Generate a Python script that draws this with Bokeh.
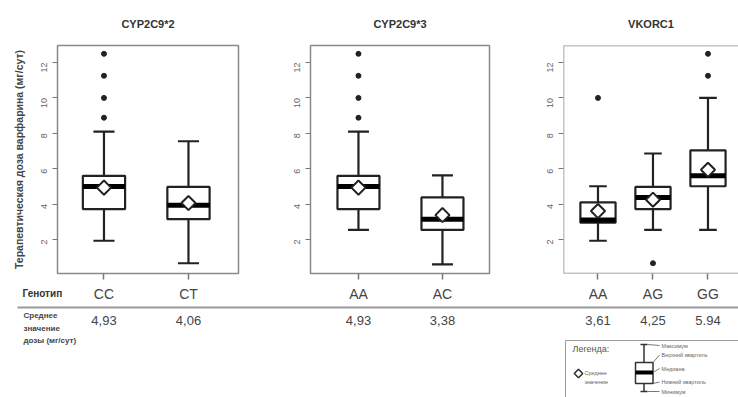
import math
from bokeh.plotting import figure
from bokeh.layouts import column, row
from bokeh.models import FixedTicker, Range1d, Span
from bokeh.embed import file_html
from bokeh.resources import INLINE
from bokeh.core.properties import value

# ---------------- data ----------------
titles = ["CYP2C9*2", "CYP2C9*3", "VKORC1"]
genotypes = [["CC", "CT"], ["AA", "AC"], ["AA", "AG", "GG"]]
whisk_low = [[1.93, 0.66], [2.54, 0.60], [1.93, 2.54, 2.54]]
q1 = [[3.72, 3.15], [3.72, 2.54], [2.95, 3.72, 5.01]]
median = [[5.00, 3.94], [5.00, 3.14], [3.10, 4.38, 5.60]]
q3 = [[5.60, 4.97], [5.60, 4.38], [4.10, 4.97, 7.04]]
whisk_high = [[8.10, 7.55], [8.10, 5.62], [5.01, 6.86, 10.00]]
means = [[4.93, 4.06], [4.93, 3.38], [3.61, 4.25, 5.94]]
mean_labels = [["4,93", "4,06"], ["4,93", "3,38"], ["3,61", "4,25", "5.94"]]
# outliers: (genotype index, value)
outliers = [
    [(0, 12.49), (0, 11.25), (0, 10.00), (0, 8.88)],
    [(0, 12.49), (0, 11.25), (0, 10.00), (0, 8.88)],
    [(0, 10.00), (1, 0.66), (2, 12.49), (2, 11.25)],
]
y_ticks = [2, 4, 6, 8, 10, 12]
y_label = "Терапевтическая доза варфарина (мг/сут)"
genotype_label = "Генотип"
mean_row_label = ["Среднее", "значение", "дозы (мг/сут)"]
legend_title = "Легенда:"
legend_mean = ["Среднее", "значение"]
legend_parts = ["Максимум", "Верхний квартиль", "Медиана", "Нижний квартиль", "Минимум"]

# ---------------- layout geometry ----------------
TOP_H = 280
FONT = "Liberation Sans"
x_ranges = [(0.45, 2.592), (0.429, 2.56), (0.373, 3.555)]
y_range = (0.08, 12.96)
box_w = [0.5, 0.5, 0.64]
fig_w = [250, 250, 238]
border_l = [57, 60, 63]
border_r = [12, 11, 0]
BOX_COL = "#222222"
FRAME_COL = "#8a8a8a"

figs = []
for k in range(3):
    p = figure(width=fig_w[k], height=TOP_H, output_backend="svg", toolbar_location=None,
               x_range=Range1d(*x_ranges[k]), y_range=Range1d(*y_range),
               min_border_left=border_l[k], min_border_right=border_r[k],
               min_border_top=45, min_border_bottom=7, title=titles[k])
    p.title.align = "center"
    p.title.text_font = FONT
    p.title.text_font_size = "11px"
    p.title.text_font_style = "bold"
    p.title.text_color = "#333333"
    p.title.standoff = 31
    p.xgrid.visible = False
    p.ygrid.visible = False
    p.background_fill_color = "white"
    p.border_fill_color = "white"
    if k < 2:
        p.outline_line_color = FRAME_COL
        p.outline_line_width = 1.5
    else:
        p.outline_line_color = None
        for sp in [Span(location=y_range[0], dimension="width"),
                   Span(location=y_range[1], dimension="width"),
                   Span(location=x_ranges[k][0], dimension="height")]:
            sp.line_color = FRAME_COL
            sp.line_width = 1.5
            p.add_layout(sp)

    xs = list(range(1, len(genotypes[k]) + 1))
    # x axis: ticks only (labels drawn in the table below)
    xa = p.xaxis[0]
    xa.ticker = FixedTicker(ticks=xs)
    xa.major_label_overrides = {x: "" for x in xs}
    xa.major_label_text_font_size = "0px"
    xa.major_label_standoff = 0
    xa.axis_line_color = None
    xa.major_tick_out = 6
    xa.major_tick_in = 0
    xa.major_tick_line_color = "#777777"
    xa.major_tick_line_width = 1.5
    xa.minor_tick_line_color = None
    # y axis
    ya = p.yaxis[0]
    ya.ticker = FixedTicker(ticks=y_ticks)
    ya.axis_line_color = None
    ya.major_tick_out = 5
    ya.major_tick_in = 0
    ya.major_tick_line_color = "#777777"
    ya.major_tick_line_width = 1.2
    ya.minor_tick_line_color = None
    ya.major_label_orientation = math.pi / 2
    ya.major_label_text_font = FONT
    ya.major_label_text_font_size = "9px"
    ya.major_label_text_color = "#666666"
    ya.major_label_standoff = 8
    if k == 0:
        ya.axis_label = y_label
        ya.axis_label_text_font = FONT
        ya.axis_label_text_font_size = "10.5px"
        ya.axis_label_text_font_style = "bold"
        ya.axis_label_text_color = "#444444"
        ya.axis_label_standoff = 11

    bw = box_w[k]
    cap = bw / 2
    # whiskers
    p.segment(x0=xs, y0=q3[k], x1=xs, y1=whisk_high[k], line_color=BOX_COL, line_width=2.2)
    p.segment(x0=xs, y0=q1[k], x1=xs, y1=whisk_low[k], line_color=BOX_COL, line_width=2.2)
    p.segment(x0=[x - cap / 2 for x in xs], y0=whisk_high[k], x1=[x + cap / 2 for x in xs],
              y1=whisk_high[k], line_color=BOX_COL, line_width=2.2)
    p.segment(x0=[x - cap / 2 for x in xs], y0=whisk_low[k], x1=[x + cap / 2 for x in xs],
              y1=whisk_low[k], line_color=BOX_COL, line_width=2.2)
    # boxes
    p.vbar(x=xs, width=bw, top=q3[k], bottom=q1[k], fill_color="white",
           line_color=BOX_COL, line_width=2.2)
    # medians
    p.segment(x0=[x - bw / 2 for x in xs], y0=median[k], x1=[x + bw / 2 for x in xs],
              y1=median[k], line_color="#000000", line_width=5)
    # outliers
    p.scatter(x=[xs[i] for i, v in outliers[k]], y=[v for i, v in outliers[k]],
              marker="circle", size=5, fill_color="#222222", line_color="#222222")
    # means (open diamonds)
    p.scatter(x=xs, y=means[k], marker="square", angle=math.pi / 4, size=10,
              fill_color="white", line_color=BOX_COL, line_width=2)
    figs.append(p)

# ---------------- bottom table + legend ----------------
BOT_H = 397 - TOP_H
fb = figure(width=738, height=BOT_H, output_backend="svg", toolbar_location=None,
            x_range=Range1d(0, 738), y_range=Range1d(397, TOP_H),
            min_border_left=0, min_border_right=0, min_border_top=0, min_border_bottom=0)
fb.axis.visible = False
fb.grid.visible = False
fb.outline_line_color = None

# extra ranges aligning with each panel's data scale
offsets = [0, 250, 500]
for k in range(3):
    a, b = x_ranges[k]
    fw = fig_w[k] - border_l[k] - border_r[k]
    unit = fw / (b - a)
    left_px = offsets[k] + border_l[k]
    start = a - left_px / unit
    end = start + 738 / unit
    fb.extra_x_ranges[f"p{k}"] = Range1d(start, end)
    xs = list(range(1, len(genotypes[k]) + 1))
    fb.text(x=xs, y=[293] * len(xs), text=genotypes[k], x_range_name=f"p{k}",
            text_align="center", text_baseline="middle", text_font=value(FONT),
            text_font_size="14px", text_color="#444444")
    fb.text(x=xs, y=[320] * len(xs), text=mean_labels[k], x_range_name=f"p{k}",
            text_align="center", text_baseline="middle", text_font=value(FONT),
            text_font_size="13px", text_color="#444444")

fb.text(x=[22], y=[293], text=[genotype_label], text_align="left", text_baseline="middle",
        text_font=value(FONT), text_font_size="10px", text_font_style="bold",
        text_color="#333333")
fb.segment(x0=[17], y0=[307], x1=[738], y1=[307], line_color="#9a9a9a", line_width=2)
for i, t in enumerate(mean_row_label):
    fb.text(x=[23], y=[315 + i * 12.5], text=[t], text_align="left", text_baseline="middle",
            text_font=value(FONT), text_font_size="8px", text_font_style="bold",
            text_color="#444444")

# legend
fb.quad(left=[565], right=[745], top=[340], bottom=[402], fill_color=None,
        line_color="#9a9a9a", line_width=1)
fb.text(x=[572], y=[348], text=[legend_title], text_align="left", text_baseline="middle",
        text_font=value(FONT), text_font_size="9px", text_color="#555555")
fb.scatter(x=[578], y=[373], marker="square", angle=math.pi / 4, size=6, fill_color="white",
           line_color="#333333", line_width=1.6)
for i, t in enumerate(legend_mean):
    fb.text(x=[584], y=[372 + i * 9.5], text=[t], text_align="left", text_baseline="middle",
            text_font=value(FONT), text_font_size="5.5px", text_color="#666666")
# mini box
fb.segment(x0=[643.5, 643.5, 640, 640], y0=[344, 383, 344, 391], x1=[643.5, 643.5, 647, 647],
           y1=[362, 391, 344, 391], line_color="#333333", line_width=1.5)
fb.quad(left=[635], right=[652.5], top=[362], bottom=[383], fill_color="white",
        line_color="#333333", line_width=1.5)
fb.segment(x0=[635], y0=[372], x1=[652.5], y1=[372], line_color="#000000", line_width=4)
lab_y = [345, 354.5, 368, 381.5, 391]
src_pts = [(647, 344), (652.5, 362), (652.5, 372), (652.5, 383), (647, 391)]
fb.segment(x0=[s[0] for s in src_pts], y0=[s[1] for s in src_pts], x1=[659] * 5, y1=lab_y,
           line_color="#555555", line_width=0.8)
fb.text(x=[661] * 5, y=lab_y, text=legend_parts, text_align="left", text_baseline="middle",
        text_font=value(FONT), text_font_size="5.5px", text_color="#666666")

layout = column(row(*figs, spacing=0), fb, spacing=0)
open("out.html", "w").write(file_html(layout, INLINE))
